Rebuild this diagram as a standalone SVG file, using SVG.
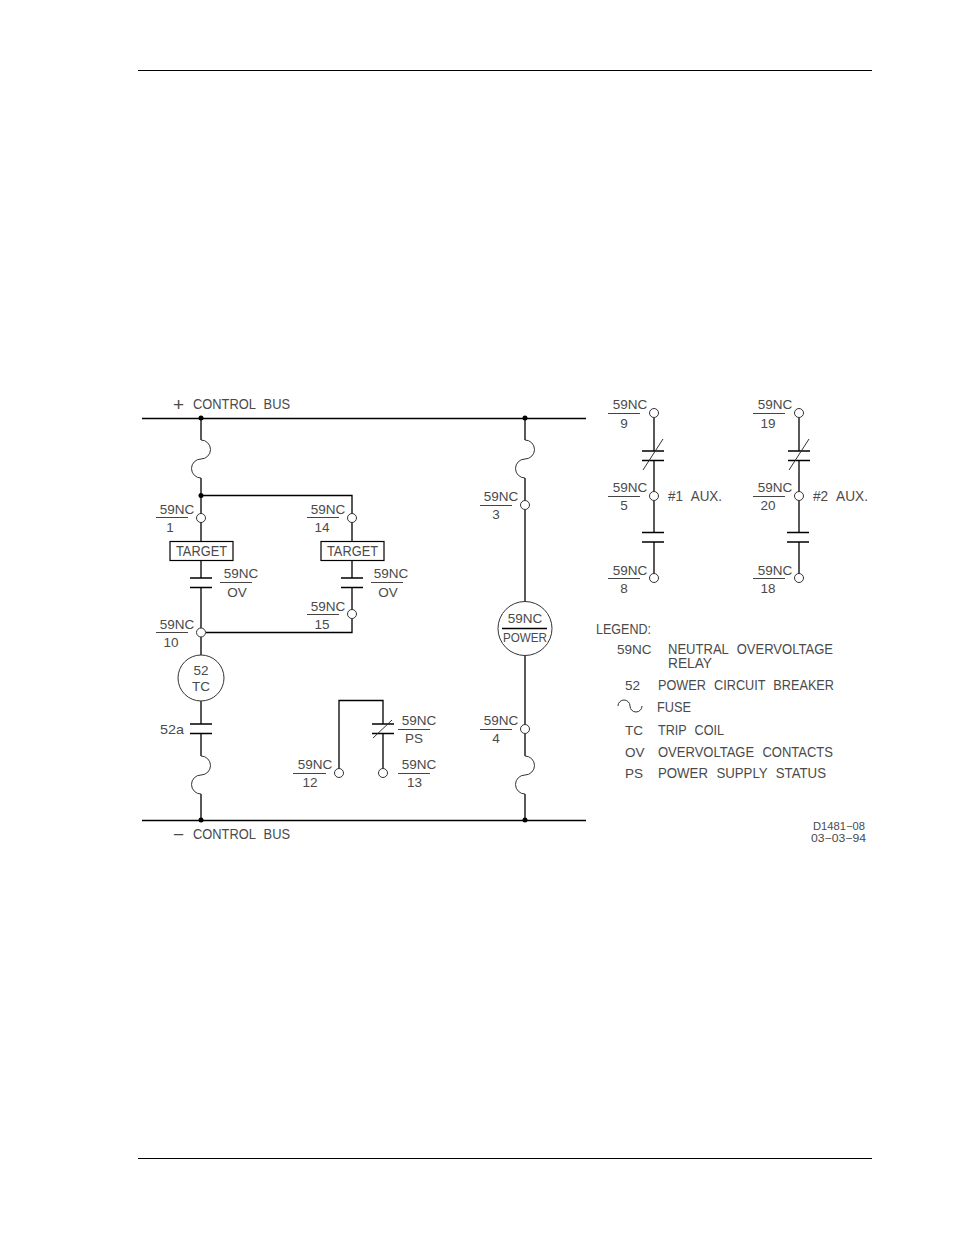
<svg xmlns="http://www.w3.org/2000/svg" width="954" height="1235" viewBox="0 0 954 1235">
<style>
text{font-family:"Liberation Sans",Arial,sans-serif;font-size:13.5px;fill:#4a4a4a}
.m{text-anchor:middle}
.w{font-size:14px;word-spacing:5px}
.b{font-size:19px}
.s{font-size:10.5px}
.l,.f,.c,.n,.r{stroke:#000;fill:none}
.l{stroke-width:1.3}
.f{stroke-width:1;stroke:#333}
.n{fill:#fff;stroke:#333;stroke-width:1}
.c{stroke:#444;stroke-width:1}
.r{fill:#fff;stroke-width:1.2}
.t{stroke:#000;stroke-width:1}
</style>
<defs>
<g id="fuse"><path class="f" d="M0 0A9.500 9.500 0 0 1 0 19A9.500 9.500 0 0 0 0 38"/></g>
<g id="contact"><path class="l" d="M-11 0H11M-11 9.500H11"/></g>
<g id="contactNC"><path class="l" d="M-11 0H11M-11 9.500H11"/><path class="f" d="M-10 19L10 -12"/></g>
</defs>
<g id="page-rules"><path class="t" d="M138 70.500H872M138 1158.500H872"/></g>
<g id="connectors">
<path class="l" d="M142 418.500H586M142 820.500H586"/>
<path class="l" d="M201 418.500V440M201 478V514M201 522V541M201 561V578M201 587.500V628M201 637V655M201 701V724M201 733.500V756M201 794V820"/>
<path class="l" d="M201 495.500H352V514M352 522V541M352 561V578M352 587.500V610M352 619V632.500H206"/>
<path class="l" d="M525 418.500V440M525 478V501M525 510V601M525 656V725M525 734V756M525 794V820"/>
<path class="l" d="M339 769V700.500H383V724M383 733.500V769"/>
<path class="l" d="M654 418V451M654 460.500V492M654 501V532.500M654 542V574"/>
<path class="l" d="M799 418V451M799 460.500V492M799 501V532.500M799 542V574"/>
<circle cx="201" cy="418" r="2.500"/><circle cx="201" cy="495.500" r="2.500"/><circle cx="201" cy="820" r="2.500"/>
<circle cx="525" cy="418" r="2.500"/><circle cx="525" cy="820" r="2.500"/>
</g>
<g id="fuses">
<use href="#fuse" x="201" y="440"/><use href="#fuse" x="201" y="756"/><use href="#fuse" x="525" y="440"/><use href="#fuse" x="525" y="756"/>
</g>
<g id="contacts">
<use href="#contact" x="201" y="578"/><use href="#contact" x="352" y="578"/><use href="#contact" x="201" y="724"/>
<path class="l" d="M372 724H394M372 733.500H394"/><path class="f" d="M373 738L392 720"/>
<use href="#contactNC" x="653" y="451"/><use href="#contact" x="653" y="532.500"/>
<use href="#contactNC" x="799" y="451"/><use href="#contact" x="798" y="532.500"/>
</g>
<g id="bus-labels">
<text x="173" y="411" class="b">+</text><text x="193" y="409" class="w" textLength="97" lengthAdjust="spacingAndGlyphs">CONTROL BUS</text>
<text x="173" y="841" class="b">−</text><text x="193" y="839" class="w" textLength="97" lengthAdjust="spacingAndGlyphs">CONTROL BUS</text>
</g>
<g id="node-1"><circle class="n" cx="201" cy="518" r="4.500"/><path class="c" d="M156 517.500H188"/><text x="177" y="514" class="m">59NC</text><text x="170" y="532" class="m">1</text></g>
<g id="node-14"><circle class="n" cx="352" cy="518" r="4.500"/><path class="c" d="M307 517.500H339"/><text x="328" y="514" class="m">59NC</text><text x="322" y="532" class="m">14</text></g>
<g id="target-1"><rect class="r" x="170" y="541.500" width="63" height="19"/><text x="176" y="556" class="w" textLength="51" lengthAdjust="spacingAndGlyphs">TARGET</text></g>
<g id="target-2"><rect class="r" x="321" y="541.500" width="63" height="19"/><text x="327" y="556" class="w" textLength="51" lengthAdjust="spacingAndGlyphs">TARGET</text></g>
<g id="label-ov-1"><path class="c" d="M220 582.500H252"/><text x="241" y="578" class="m">59NC</text><text x="237" y="597" class="m">OV</text></g>
<g id="label-ov-2"><path class="c" d="M371 582.500H403"/><text x="391" y="578" class="m">59NC</text><text x="388" y="597" class="m">OV</text></g>
<g id="node-15"><circle class="n" cx="352" cy="614" r="4.500"/><path class="c" d="M307 614.500H339"/><text x="328" y="611" class="m">59NC</text><text x="322" y="629" class="m">15</text></g>
<g id="node-10"><circle class="n" cx="201" cy="632.500" r="4.500"/><path class="c" d="M156 632.500H188"/><text x="177" y="629" class="m">59NC</text><text x="171" y="647" class="m">10</text></g>
<g id="coil-52"><circle class="n" cx="201" cy="678" r="23"/><text x="201" y="675" class="m">52</text><text x="201" y="691" class="m">TC</text></g>
<text id="label-52a" x="160" y="734" textLength="24" lengthAdjust="spacingAndGlyphs">52a</text>
<g id="label-ps"><path class="c" d="M398 729.500H430"/><text x="419" y="725" class="m">59NC</text><text x="414" y="743" class="m">PS</text></g>
<g id="node-12"><circle class="n" cx="339" cy="773" r="4.500"/><path class="c" d="M293 773.500H326"/><text x="315" y="769" class="m">59NC</text><text x="310" y="787" class="m">12</text></g>
<g id="node-13"><circle class="n" cx="383" cy="773" r="4.500"/><path class="c" d="M398 773.500H430"/><text x="419" y="769" class="m">59NC</text><text x="414.500" y="787" class="m">13</text></g>
<g id="node-3"><circle class="n" cx="525" cy="505" r="4.500"/><path class="c" d="M480 505.500H512"/><text x="501" y="501" class="m">59NC</text><text x="496" y="519" class="m">3</text></g>
<g id="coil-power"><circle class="n" cx="525" cy="628.500" r="27"/><path class="l" d="M502 628.500H547"/><text x="525" y="623" class="m">59NC</text><text x="503" y="642" textLength="44" lengthAdjust="spacingAndGlyphs">POWER</text></g>
<g id="node-4"><circle class="n" cx="525" cy="729" r="4.500"/><path class="c" d="M480 729.500H512"/><text x="501" y="725" class="m">59NC</text><text x="496" y="743" class="m">4</text></g>
<g id="node-9"><circle class="n" cx="654" cy="413" r="4.500"/><path class="c" d="M608 413.500H640"/><text x="630" y="409" class="m">59NC</text><text x="624" y="428" class="m">9</text></g>
<g id="node-5"><circle class="n" cx="654" cy="496" r="4.500"/><path class="c" d="M608 496.500H640"/><text x="630" y="492" class="m">59NC</text><text x="624" y="510" class="m">5</text><text x="668" y="501" class="w" textLength="54" lengthAdjust="spacingAndGlyphs">#1 AUX.</text></g>
<g id="node-8"><circle class="n" cx="654" cy="578" r="4.500"/><path class="c" d="M608 578.500H640"/><text x="630" y="575" class="m">59NC</text><text x="624" y="593" class="m">8</text></g>
<g id="node-19"><circle class="n" cx="799" cy="413" r="4.500"/><path class="c" d="M753 413.500H785"/><text x="775" y="409" class="m">59NC</text><text x="768" y="428" class="m">19</text></g>
<g id="node-20"><circle class="n" cx="799" cy="496" r="4.500"/><path class="c" d="M753 496.500H785"/><text x="775" y="492" class="m">59NC</text><text x="768" y="510" class="m">20</text><text x="813" y="501" class="w" textLength="55" lengthAdjust="spacingAndGlyphs">#2 AUX.</text></g>
<g id="node-18"><circle class="n" cx="799" cy="578" r="4.500"/><path class="c" d="M753 578.500H785"/><text x="775" y="575" class="m">59NC</text><text x="768" y="593" class="m">18</text></g>
<g id="legend">
<text x="596" y="634" class="w" textLength="55" lengthAdjust="spacingAndGlyphs">LEGEND:</text>
<text x="617" y="654">59NC</text><text x="668" y="654" class="w" textLength="165" lengthAdjust="spacingAndGlyphs">NEUTRAL OVERVOLTAGE</text><text x="668" y="668" class="w" textLength="44" lengthAdjust="spacingAndGlyphs">RELAY</text>
<text x="625" y="690">52</text><text x="658" y="690" class="w" textLength="176" lengthAdjust="spacingAndGlyphs">POWER CIRCUIT BREAKER</text>
<path class="f" d="M618 706A6 6 0 0 1 630 706A6 6 0 0 0 642 706"/><text x="657" y="712" class="w" textLength="34" lengthAdjust="spacingAndGlyphs">FUSE</text>
<text x="625" y="735">TC</text><text x="658" y="735" class="w" textLength="66" lengthAdjust="spacingAndGlyphs">TRIP COIL</text>
<text x="625" y="757">OV</text><text x="658" y="757" class="w" textLength="175" lengthAdjust="spacingAndGlyphs">OVERVOLTAGE CONTACTS</text>
<text x="625" y="778">PS</text><text x="658" y="778" class="w" textLength="168" lengthAdjust="spacingAndGlyphs">POWER SUPPLY STATUS</text>
</g>
<g id="drawing-number"><text x="813" y="830" class="s" textLength="52" lengthAdjust="spacingAndGlyphs">D1481−08</text><text x="811" y="842" class="s" textLength="55" lengthAdjust="spacingAndGlyphs">03−03−94</text></g>
</svg>
